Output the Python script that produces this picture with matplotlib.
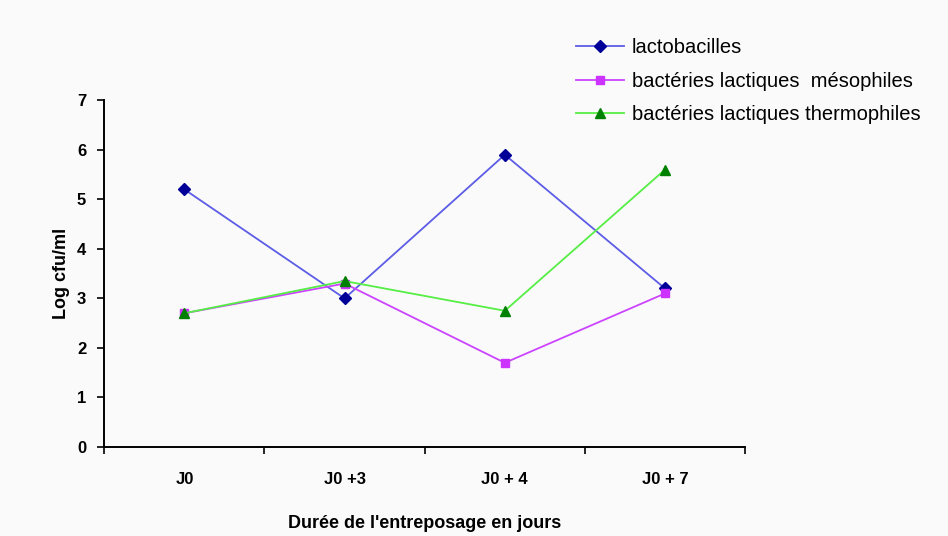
import matplotlib.pyplot as plt
import numpy as np

plt.rcParams['font.family'] = ['Liberation Sans', 'DejaVu Sans']

jours = ["J0", "J0 +3", "J0 + 4", "J0 + 7"]
lactobacilles = [5.2, 3.0, 5.9, 3.2]
mesophiles = [2.7, 3.3, 1.7, 3.1]
thermophiles = [2.7, 3.35, 2.75, 5.6]

fig = plt.figure(figsize=(9.48, 5.36), dpi=100, facecolor="#fafafa")
ax = fig.add_axes([0.110, 0.166, 0.676, 0.647])
ax.set_facecolor("#fafafa")

x = np.arange(len(jours))
ax.plot(x, lactobacilles, color="#5c5ce6", lw=1.3, marker="D", ms=6,
        mfc="#000099", mec="#000099", label="lactobacilles")
ax.plot(x, mesophiles, color="#cc44ff", lw=1.3, marker="s", ms=6,
        mfc="#cc33ff", mec="#cc33ff", label="bactéries lactiques  mésophiles")
ax.plot(x, thermophiles, color="#55ee44", lw=1.3, marker="^", ms=7,
        mfc="#008000", mec="#008000", label="bactéries lactiques thermophiles")

ax.set_xlim(-0.5, len(jours) - 0.5)
ax.set_ylim(0, 7)
ax.set_yticks(range(8))
ax.set_xticks(x)
ax.set_xticklabels(jours, fontweight="bold", fontsize=12)
ax.set_xticks(np.arange(-0.5, len(jours)), minor=True)
ax.tick_params(axis="x", which="major", length=0, pad=18)
ax.tick_params(axis="x", which="minor", length=5, width=1.2, direction="out")
ax.tick_params(axis="y", length=5, width=1.2, labelsize=12, pad=8)
for lab in ax.get_yticklabels():
    lab.set_fontweight("bold")

for side in ["top", "right"]:
    ax.spines[side].set_visible(False)
for side in ["left", "bottom"]:
    ax.spines[side].set_linewidth(1.4)

ax.set_ylabel("Log cfu/ml", fontweight="bold", fontsize=13, labelpad=5)
ax.set_xlabel("Durée de l'entreposage en jours", fontweight="bold", fontsize=13, labelpad=20)

ax.legend(loc="upper left", bbox_to_anchor=(0.588, 0.962), bbox_transform=fig.transFigure,
          frameon=False, fontsize=14.5, handlelength=2.4, handletextpad=0.4, labelspacing=0.72)

fig.savefig("out.png", dpi=100, facecolor=fig.get_facecolor())
